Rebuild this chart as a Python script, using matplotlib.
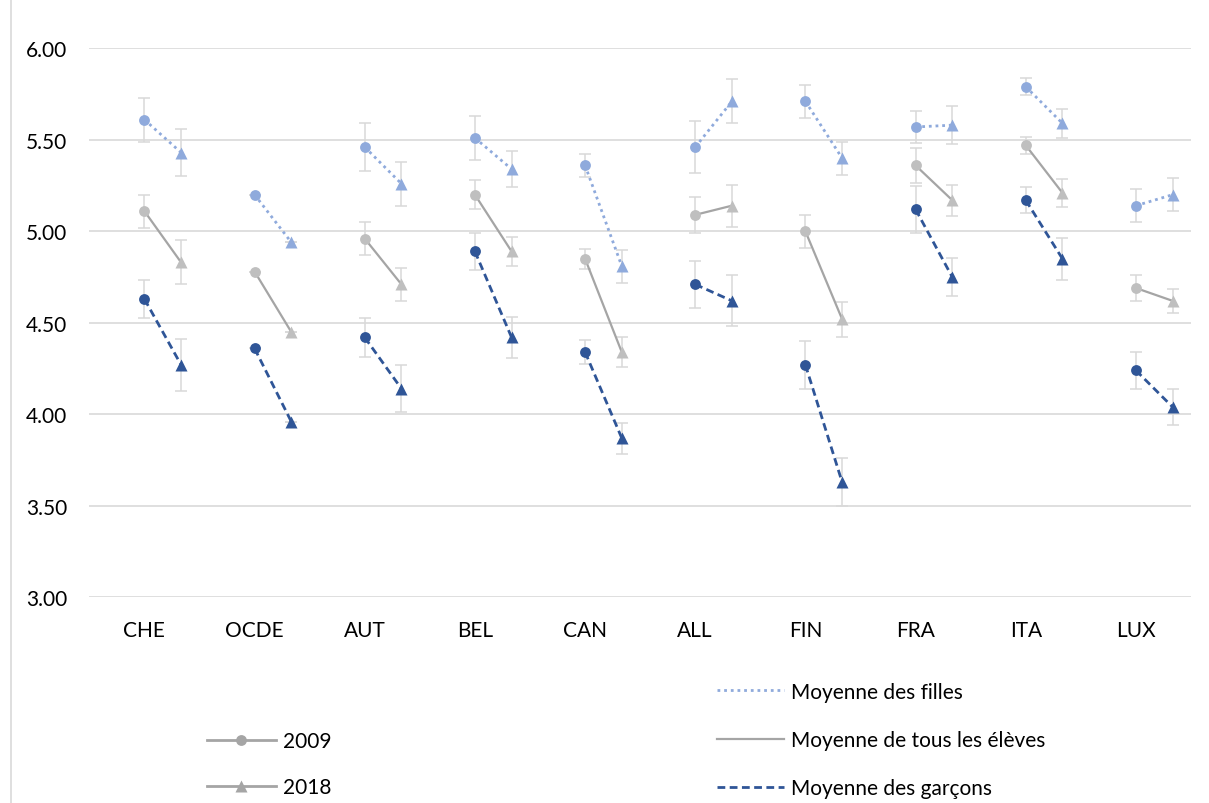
import matplotlib.pyplot as plt
from matplotlib.lines import Line2D

plt.rcParams['font.family'] = ['Lato', 'DejaVu Sans']

pays = ["CHE", "OCDE", "AUT", "BEL", "CAN", "ALL", "FIN", "FRA", "ITA", "LUX"]

filles_2009 = [5.61, 5.20, 5.46, 5.51, 5.36, 5.46, 5.71, 5.57, 5.79, 5.14]
filles_2018 = [5.43, 4.94, 5.26, 5.34, 4.81, 5.71, 5.40, 5.58, 5.59, 5.20]
tous_2009 = [5.11, 4.78, 4.96, 5.20, 4.85, 5.09, 5.00, 5.36, 5.47, 4.69]
tous_2018 = [4.83, 4.45, 4.71, 4.89, 4.34, 5.14, 4.52, 5.17, 5.21, 4.62]
garcons_2009 = [4.63, 4.36, 4.42, 4.89, 4.34, 4.71, 4.27, 5.12, 5.17, 4.24]
garcons_2018 = [4.27, 3.96, 4.14, 4.42, 3.87, 4.62, 3.63, 4.75, 4.85, 4.04]

# demi-intervalles (barres d'erreur)
err_filles_2009 = [0.12, 0, 0.13, 0.12, 0.065, 0.14, 0.09, 0.09, 0.045, 0.09]
err_filles_2018 = [0.13, 0, 0.12, 0.10, 0.09, 0.12, 0.09, 0.105, 0.08, 0.09]
err_tous_2009 = [0.09, 0, 0.09, 0.08, 0.055, 0.10, 0.09, 0.095, 0.045, 0.07]
err_tous_2018 = [0.12, 0, 0.09, 0.08, 0.08, 0.115, 0.095, 0.085, 0.075, 0.065]
err_garcons_2009 = [0.105, 0, 0.105, 0.10, 0.065, 0.13, 0.13, 0.13, 0.07, 0.10]
err_garcons_2018 = [0.14, 0, 0.13, 0.11, 0.085, 0.14, 0.13, 0.105, 0.115, 0.10]

series = [
    (filles_2009, filles_2018, err_filles_2009, err_filles_2018,
     "#8FAADC", "#8FAADC", (0, (1, 1.4)), 2.0),
    (tous_2009, tous_2018, err_tous_2009, err_tous_2018,
     "#A5A5A5", "#BFBFBF", "-", 1.6),
    (garcons_2009, garcons_2018, err_garcons_2009, err_garcons_2018,
     "#2F5597", "#2F5597", (0, (2.8, 1.6)), 2.0),
]

decal = 0.333
x09 = list(range(len(pays)))
x18 = [i + decal for i in x09]

fig = plt.figure(figsize=(12.09, 8.04), dpi=100)
ax = fig.add_axes([0.0739, 0.2558, 0.9112, 0.6829])

for v09, v18, e09, e18, lc, mc, ls, lw in series:
    ax.errorbar(x09, v09, yerr=e09, fmt='none', ecolor='#D9D9D9',
                elinewidth=1.1, capsize=4.5, capthick=1.1, zorder=1)
    ax.errorbar(x18, v18, yerr=e18, fmt='none', ecolor='#D9D9D9',
                elinewidth=1.1, capsize=4.5, capthick=1.1, zorder=1)
    for i in range(len(pays)):
        ax.plot([x09[i], x18[i]], [v09[i], v18[i]], color=lc, ls=ls, lw=lw,
                zorder=2)
    ax.plot(x09, v09, 'o', color=mc, ms=7.8, zorder=3, mec='none')
    ax.plot(x18, v18, '^', color=mc, ms=8.3, zorder=3, mec='none')

ax.set_xlim(-0.5, len(pays) - 0.5)
ax.set_ylim(3, 6)
ax.set_yticks([3.0, 3.5, 4.0, 4.5, 5.0, 5.5, 6.0])
ax.set_yticklabels([f"{v:.2f}" for v in [3.0, 3.5, 4.0, 4.5, 5.0, 5.5, 6.0]])
ax.set_xticks(x09)
ax.set_xticklabels(pays)
ax.tick_params(axis='both', length=0, labelsize=15, colors='black')
ax.tick_params(axis='y', pad=16)
ax.tick_params(axis='x', pad=16)
ax.grid(axis='y', color='#D9D9D9', lw=1.2)
ax.set_axisbelow(True)
for s in ax.spines.values():
    s.set_visible(False)

# bordure gauche du graphique
fig.add_artist(Line2D([11 / 1209, 11 / 1209], [0, 1], color='#D9D9D9', lw=1.2,
                      transform=fig.transFigure))

annees = [
    Line2D([], [], color='#A5A5A5', lw=2, marker='o', ms=7.8, mec='none', label='2009'),
    Line2D([], [], color='#A5A5A5', lw=2, marker='^', ms=8.3, mec='none', label='2018'),
]
groupes = [
    Line2D([], [], color='#8FAADC', lw=2, ls=(0, (1, 1.4)), label='Moyenne des filles'),
    Line2D([], [], color='#A5A5A5', lw=1.6, label='Moyenne de tous les élèves'),
    Line2D([], [], color='#2F5597', lw=2, ls=(0, (2.8, 1.6)), label='Moyenne des garçons'),
]

leg1 = fig.legend(handles=annees, loc='center left', bbox_to_anchor=(207 / 1209, 0.0485),
                  frameon=False, fontsize=15, handlelength=3.3, handletextpad=0.35,
                  labelspacing=1.25, borderpad=0, borderaxespad=0)
leg2 = fig.legend(handles=groupes, loc='center left', bbox_to_anchor=(717 / 1209, 0.0785),
                  frameon=False, fontsize=15, handlelength=3.2, handletextpad=0.35,
                  labelspacing=1.35, borderpad=0, borderaxespad=0)

plt.savefig("out.png", dpi=100)
plt.close()
